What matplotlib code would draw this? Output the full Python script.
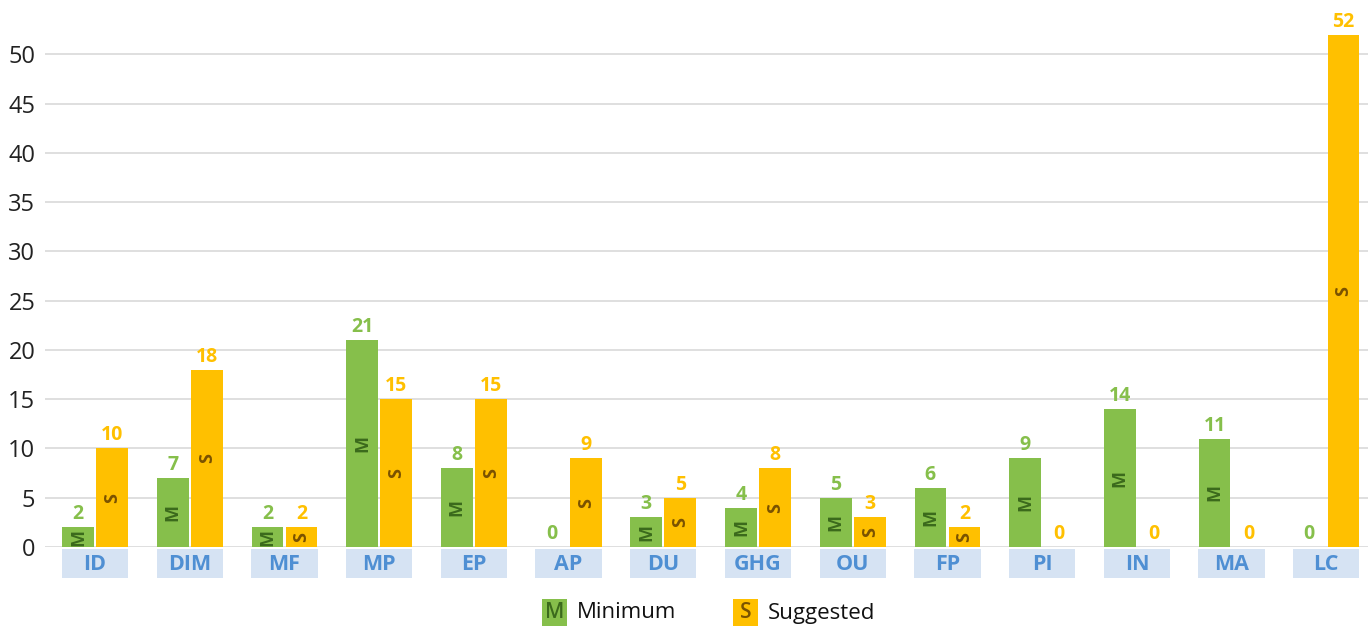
import matplotlib.pyplot as plt
from matplotlib.patches import Rectangle

categories = ['ID', 'DIM', 'MF', 'MP', 'EP', 'AP', 'DU', 'GHG', 'OU', 'FP', 'PI', 'IN', 'MA', 'LC']
minimum = [2, 7, 2, 21, 8, 0, 3, 4, 5, 6, 9, 14, 11, 0]
suggested = [10, 18, 2, 15, 15, 9, 5, 8, 3, 2, 0, 0, 0, 52]

green = '#86bf4b'
orange = '#ffc000'
green_dark = '#3b6a1c'
orange_dark = '#7a5200'
box_col = '#d6e3f3'
box_txt = '#4f8fd3'

plt.rcParams['font.family'] = ['Open Sans', 'DejaVu Sans']

W, H = 1368, 628
fig = plt.figure(figsize=(W / 100, H / 100), dpi=100)
ax = fig.add_axes([45 / W, 81 / H, 1 - 45 / W, 542 / H])

x = list(range(len(categories)))
bw = 0.335
off = 0.18
xm = [i - off for i in x]
xs = [i + off for i in x]

ax.bar(xm, minimum, width=bw, color=green, zorder=3)
ax.bar(xs, suggested, width=bw, color=orange, zorder=3)

for i in x:
    m, s = minimum[i], suggested[i]
    ax.text(xm[i], m + 0.3, str(m), ha='center', va='bottom', color=green,
            fontsize=14, fontweight='bold', zorder=4)
    ax.text(xs[i], s + 0.3, str(s), ha='center', va='bottom', color=orange,
            fontsize=14, fontweight='bold', zorder=4)
    if m > 0:
        ax.text(xm[i], m / 2, 'M', ha='center', va='center', rotation=90,
                color=green_dark, fontsize=13, fontweight='bold', zorder=4)
    if s > 0:
        ax.text(xs[i], s / 2, 'S', ha='center', va='center', rotation=90,
                color=orange_dark, fontsize=13, fontweight='bold', zorder=4)
    # category label boxes
    ax.add_patch(Rectangle((i - 0.35, -3.15), 0.7, 2.95, facecolor=box_col,
                           edgecolor='none', clip_on=False, zorder=2))
    ax.text(i, -1.75, categories[i], ha='center', va='center', color=box_txt,
            fontsize=15.5, fontweight='bold', clip_on=False)

ax.set_xlim(-0.528, 13.44)
ax.set_ylim(0, 55)
ax.set_yticks(range(0, 55, 5))
ax.tick_params(axis='y', length=0, labelsize=17, pad=7, labelcolor='#222222')
ax.set_xticks([])
ax.grid(axis='y', color='#dcdcdc', linewidth=1.3, zorder=0)
for sp in ax.spines.values():
    sp.set_visible(False)

# legend
for x0, col, dark, letter, label in [(542, green, green_dark, 'M', 'Minimum'),
                                     (733, orange, orange_dark, 'S', 'Suggested')]:
    fig.add_artist(Rectangle((x0 / W, 2 / H), 25 / W, 27 / H, facecolor=col,
                             edgecolor='none', transform=fig.transFigure))
    fig.text((x0 + 12.5) / W, 15 / H, letter, ha='center', va='center',
             color=dark, fontsize=15, fontweight='semibold')
    fig.text((x0 + 35) / W, 15 / H, label, ha='left', va='center',
             color='#111111', fontsize=16)

fig.savefig('out.png', dpi=100)
plt.close(fig)
